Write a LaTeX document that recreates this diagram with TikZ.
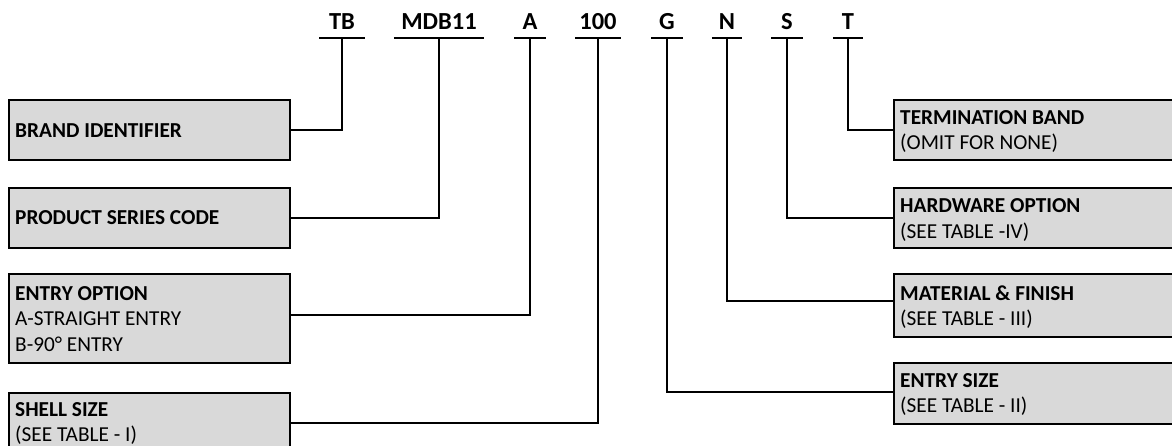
\documentclass[tikz,border=0pt]{standalone}
\usepackage{fontspec}
\setmainfont{Carlito}
\usetikzlibrary{positioning}
\definecolor{boxgray}{RGB}{217,217,217}

\begin{document}
\begin{tikzpicture}[x=1pt,y=-1pt,
  code/.style={anchor=base, inner xsep=0pt, inner ysep=8pt, text depth=0pt, font=\bfseries\fontsize{24.5}{28}\selectfont},
  codebox/.style={draw, fill=boxgray, line width=2pt, anchor=north west, inner sep=0pt},
  txt/.style={anchor=base west, inner sep=0pt, align=left, font=\fontsize{21.3}{25.5}\selectfont},
  wire/.style={line width=2.2pt}]
\useasboundingbox (0,0) rectangle (1172,446);
\clip (0,0) rectangle (1172,446);
\foreach \n/\t/\x/\w in {tb/TB/342/45, mdb/MDB11/439/90, a/A/530/31, sz/100/598/45,
    g/G/667/31, n/N/727/30, s/S/787/31, t/T/848/30}
{
  \node[code, minimum width=\w pt] (\n) at (\x,30) {\t};
  \draw[wire] (\n.south west) -- (\n.south east);
}
\node[codebox, minimum width=281pt, minimum height=60pt] (brand) at (8,99) {};
\node[codebox, minimum width=281pt, minimum height=60pt] (series) at (8,187) {};
\node[codebox, minimum width=281pt, minimum height=89pt] (entry) at (8,273) {};
\node[codebox, minimum width=281pt, minimum height=62pt] (shell) at (8,392) {};
\node[codebox, minimum width=300pt, minimum height=60pt] (term) at (893,99) {};
\node[codebox, minimum width=300pt, minimum height=60pt] (hw) at (893,187) {};
\node[codebox, minimum width=300pt, minimum height=63pt] (mat) at (893,273) {};
\node[codebox, minimum width=300pt, minimum height=61pt] (esize) at (893,362) {};
% anchor base west = baseline of the last line
\node[txt] (brand-t) at (15,138) {\bfseries BRAND IDENTIFIER};
\node[txt] (series-t) at (15,225) {\bfseries PRODUCT SERIES CODE};
\node[txt] (entry-t) at (15,351) {{\bfseries ENTRY OPTION}\\A-STRAIGHT ENTRY\\B-90° ENTRY};
\node[txt] (shell-t) at (15,441.5) {{\bfseries SHELL SIZE}\\(SEE TABLE - I)};
\node[txt] (term-t) at (900,150) {{\bfseries TERMINATION BAND}\\(OMIT FOR NONE)};
\node[txt] (hw-t) at (900,238.5) {{\bfseries HARDWARE OPTION}\\(SEE TABLE -IV)};
\node[txt] (mat-t) at (900,325.5) {{\bfseries MATERIAL \& FINISH}\\(SEE TABLE - III)};
\node[txt] (esize-t) at (900,412.5) {{\bfseries ENTRY SIZE}\\(SEE TABLE - II)};
\draw[wire] (brand.east) -| (tb.south);
\draw[wire] (series.east) -| (mdb.south);
\draw[wire] (entry.east |- 0,315) -| (a.south);
\draw[wire] (shell.east |- 0,423) -| (sz.south);
\draw[wire] (esize.west |- 0,392) -| (g.south);
\draw[wire] (mat.west |- 0,301) -| (n.south);
\draw[wire] (hw.west) -| (s.south);
\draw[wire] (term.west) -| (t.south);
\end{tikzpicture}
\end{document}
